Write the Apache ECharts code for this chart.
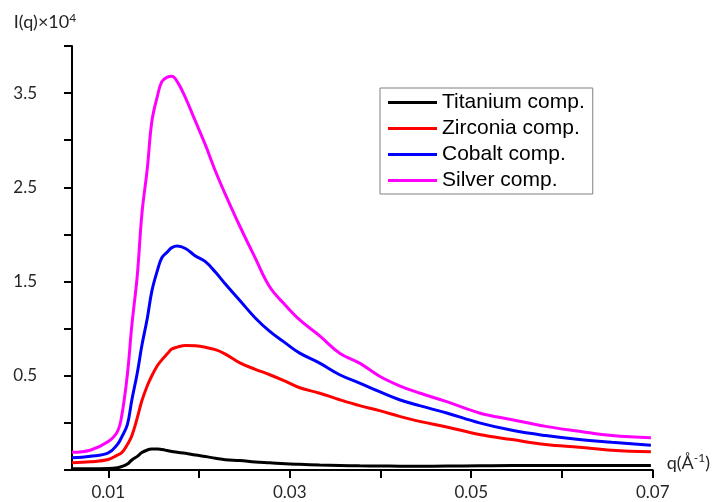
<!DOCTYPE html>
<html>
<head>
<meta charset="utf-8">
<script src="https://cdn.jsdelivr.net/npm/echarts@6/dist/echarts.min.js"></script>
<style>
html, body { margin: 0; padding: 0; background: #fff; }
#main { width: 713px; height: 502px; }
</style>
</head>
<body>
<div id="main"></div>
<script>
// q in 1/Angstrom
var qValues = [0.0060, 0.0080, 0.0100, 0.0110, 0.0115, 0.0121, 0.0126, 0.0132, 0.0137, 0.0143,
    0.0148, 0.0154, 0.0159, 0.0165, 0.0170, 0.0176, 0.0185, 0.0196, 0.0207, 0.0218,
    0.0229, 0.0245, 0.0262, 0.0278, 0.0295, 0.0311, 0.0333, 0.0355, 0.0377, 0.0399,
    0.0421, 0.0443, 0.0473, 0.0509, 0.0545, 0.0582, 0.0619, 0.0655, 0.0698];
// I(q) x 10^4
var titanium = [-0.487, -0.487, -0.484, -0.476, -0.463, -0.437, -0.394, -0.355, -0.315, -0.288,
    -0.278, -0.276, -0.283, -0.294, -0.304, -0.312, -0.323, -0.341, -0.357, -0.375,
    -0.391, -0.399, -0.415, -0.424, -0.434, -0.440, -0.447, -0.452, -0.456, -0.458,
    -0.459, -0.460, -0.458, -0.455, -0.452, -0.452, -0.452, -0.452, -0.452];
var zirconia = [-0.424, -0.413, -0.389, -0.342, -0.315, -0.230, -0.135, 0.056, 0.235, 0.394,
    0.500, 0.606, 0.669, 0.733, 0.783, 0.804, 0.822, 0.818, 0.802, 0.777,
    0.730, 0.637, 0.569, 0.511, 0.442, 0.373, 0.315, 0.246, 0.183, 0.130,
    0.069, 0.016, -0.043, -0.124, -0.177, -0.230, -0.259, -0.290, -0.307];
var cobalt = [-0.371, -0.354, -0.318, -0.230, -0.146, -0.019, 0.246, 0.532, 0.821, 1.111,
    1.399, 1.614, 1.752, 1.814, 1.860, 1.878, 1.851, 1.772, 1.711, 1.601,
    1.474, 1.299, 1.114, 0.971, 0.849, 0.740, 0.634, 0.511, 0.423, 0.331,
    0.246, 0.183, 0.105, 0.000, -0.079, -0.135, -0.177, -0.206, -0.238];
var silver = [-0.312, -0.290, -0.198, -0.093, 0.087, 0.511, 1.040, 1.569, 2.214, 2.701,
    3.198, 3.463, 3.622, 3.669, 3.680, 3.622, 3.452, 3.202, 2.950, 2.674,
    2.426, 2.087, 1.749, 1.442, 1.251, 1.093, 0.923, 0.740, 0.634, 0.495,
    0.394, 0.317, 0.225, 0.105, 0.034, -0.037, -0.089, -0.135, -0.159];

var seriesNames = ['Titanium comp.', 'Zirconia comp.', 'Cobalt comp.', 'Silver comp.'];
var seriesColors = ['#000000', '#ff0000', '#0000ff', '#ff00ff'];
var xTickValues = [0.01, 0.02, 0.03, 0.04, 0.05, 0.06, 0.07];
var xLabelValues = [0.01, 0.03, 0.05, 0.07];
var yLabelValues = [0.5, 1.5, 2.5, 3.5];

var myChart = echarts.init(document.getElementById('main'));

function pairs(arr) {
    var out = [];
    for (var i = 0; i < arr.length; i++) {
        out.push([qValues[i], arr[i]]);
    }
    return out;
}

var allData = [titanium, zirconia, cobalt, silver];
var series = [];
for (var i = 0; i < allData.length; i++) {
    series.push({
        name: seriesNames[i],
        type: 'line',
        data: pairs(allData[i]),
        symbol: 'none',
        smooth: 0.4,
        color: seriesColors[i],
        lineStyle: { width: 3, color: seriesColors[i] }
    });
}

var axisFont = 'Lato';

myChart.setOption({
    animation: false,
    backgroundColor: '#ffffff',
    grid: { left: 72, right: 60, top: 46, bottom: 32, containLabel: false },
    legend: {
        orient: 'vertical',
        left: 380,
        top: 88,
        data: seriesNames,
        icon: 'rect',
        itemWidth: 49,
        itemHeight: 3,
        itemGap: 5,
        padding: [4, 8, 3, 8],
        borderColor: '#808080',
        borderWidth: 1,
        textStyle: { fontFamily: 'Liberation Sans', fontSize: 21, color: '#000', lineHeight: 21 }
    },
    xAxis: {
        type: 'value',
        min: 0.006,
        max: 0.07,
        name: '{n|q(Å}{s|-1}{n|)}',
        nameLocation: 'end',
        nameGap: 14,
        nameTextStyle: {
            padding: [0, 0, 14, 0],
            rich: {
                n: { fontFamily: axisFont, fontSize: 18, color: '#262626', lineHeight: 21 },
                s: { fontFamily: axisFont, fontSize: 12, color: '#262626', verticalAlign: 'top', lineHeight: 21 }
            }
        },
        splitLine: { show: false },
        axisLine: { onZero: false, lineStyle: { color: '#000', width: 2 } },
        axisTick: { customValues: xTickValues, length: 8, lineStyle: { color: '#000', width: 2 } },
        axisLabel: {
            customValues: xLabelValues,
            margin: 14,
            fontFamily: axisFont,
            fontSize: 17,
            color: '#262626',
            formatter: function (v) { return v.toFixed(2); }
        }
    },
    yAxis: {
        type: 'value',
        min: -0.5,
        max: 4,
        interval: 0.5,
        name: '{a|I(q)×10}{b|4}',
        nameLocation: 'end',
        nameGap: 13,
        nameTextStyle: {
            align: 'center',
            padding: [0, 54, 0, 0],
            rich: {
                a: { fontFamily: axisFont, fontSize: 18, color: '#262626', lineHeight: 21 },
                b: { fontFamily: axisFont, fontSize: 12, color: '#262626', verticalAlign: 'top', lineHeight: 21 }
            }
        },
        splitLine: { show: false },
        axisLine: { show: true, onZero: false, lineStyle: { color: '#000', width: 2 } },
        axisTick: { show: true, length: 8, lineStyle: { color: '#000', width: 2 } },
        axisLabel: {
            customValues: yLabelValues,
            margin: 35,
            fontFamily: axisFont,
            fontSize: 17,
            color: '#262626',
            formatter: function (v) { return v.toFixed(1); }
        }
    },
    series: series
});
</script>
</body>
</html>
